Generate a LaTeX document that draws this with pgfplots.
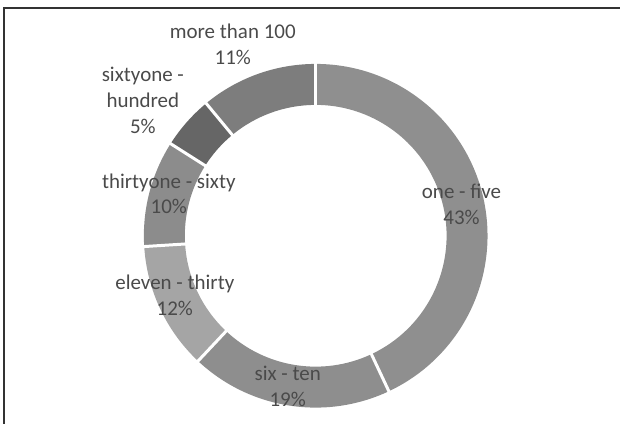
\documentclass[border=0pt]{standalone}
\usepackage{pgfplots}
\usepackage{pgfplotstable}
\pgfplotsset{compat=1.18}
\usepackage{fontspec}
\setmainfont{Carlito}
\definecolor{lbl}{HTML}{4A4A4A}

% value (percent), fill colour
\pgfplotstableread{
value color
43 8F8F8F
19 8E8E8E
12 A5A5A5
10 8C8C8C
5  666666
11 7D7D7D
}\donutdata

\begin{document}
\begin{tikzpicture}
\begin{axis}[
  width=621pt, height=424pt, scale only axis,
  xmin=0, xmax=621, ymin=0, ymax=424,
  enlargelimits=false, hide axis, clip=false,
]
\pgfplotsextra{
  \path (axis cs:0,0) rectangle (axis cs:621,424);
  \gdef\cum{0}
  \foreach \i in {0,...,5}{
    \pgfplotstablegetelem{\i}{value}\of\donutdata \edef\v{\pgfplotsretval}
    \pgfplotstablegetelem{\i}{color}\of\donutdata \edef\c{\pgfplotsretval}
    \pgfmathsetmacro\a{90-3.6*\cum}
    \pgfmathsetmacro\b{90-3.6*(\cum+\v)}
    \definecolor{seg}{HTML}{\c}
    \fill[seg] (axis cs:{316+172*cos(\a)},{188+172*sin(\a)})
       arc[start angle=\a, end angle=\b, radius=172pt]
       -- (axis cs:{316+131*cos(\b)},{188+131*sin(\b)})
       arc[start angle=\b, end angle=\a, radius=131pt] -- cycle;
    \pgfmathsetmacro\n{\cum+\v}
    \xdef\cum{\n}
  }
  \gdef\cum{0}
  \foreach \i in {0,...,5}{
    \pgfplotstablegetelem{\i}{value}\of\donutdata \edef\v{\pgfplotsretval}
    \pgfmathsetmacro\a{90-3.6*\cum}
    \draw[white, line width=3pt] (axis cs:{316+128*cos(\a)},{188+128*sin(\a)})
       -- (axis cs:{316+175*cos(\a)},{188+175*sin(\a)});
    \pgfmathsetmacro\n{\cum+\v}
    \xdef\cum{\n}
  }
  \draw[black!80, line width=1.2pt] (axis cs:4,0) -- (axis cs:4,416) -- (axis cs:621,416);
}
\begin{scope}[every node/.style={text=lbl, align=center, font=\fontsize{21}{26}\selectfont}]
\node at (axis cs:462,219) {one - five\\43\%};
\node at (axis cs:288,37) {six - ten\\19\%};
\node at (axis cs:175,128) {eleven - thirty\\12\%};
\node at (axis cs:169,230) {thirtyone - sixty\\10\%};
\node at (axis cs:143,324) {sixtyone -\\hundred\\5\%};
\node at (axis cs:233,380) {more than 100\\11\%};
\end{scope}
\end{axis}
\end{tikzpicture}
\end{document}
